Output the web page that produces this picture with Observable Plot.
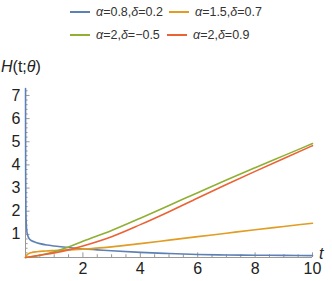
<!DOCTYPE html>
<html>
<head>
<meta charset="utf-8">
<script src="https://cdn.jsdelivr.net/npm/d3@7"></script>
<script src="https://cdn.jsdelivr.net/npm/@observablehq/plot@0.6"></script>
<style>
  html, body { margin: 0; padding: 0; background: #fff; }
  #wrap { position: relative; width: 332px; height: 281px; font-family: "Liberation Sans", Arial, sans-serif; }
  #legend { position: absolute; left: 0; top: 0; width: 332px; height: 50px; font-size: 12.5px; color: #333; }
  .item { position: absolute; display: flex; align-items: center; white-space: nowrap; }
  .sw { display: inline-block; width: 20px; height: 2px; margin-right: 6px; }
  #chart { position: absolute; left: 0; top: 50px; }
  .lab { position: absolute; font-size: 16px; color: #222; white-space: nowrap; }
</style>
</head>
<body>
<div id="wrap">
  <div id="legend"></div>
  <div id="chart"></div>
  <div class="lab" style="left:1px; top:58px;"><i>H</i>(t;<i>θ</i>)</div>
  <div class="lab" style="left:319px; top:245px;"><i>t</i></div>
</div>
<script>
// ---- data ----
const seriesNames = ["α=0.8,δ=0.2", "α=1.5,δ=0.7", "α=2,δ=−0.5", "α=2,δ=0.9"];
const seriesLegendHtml = ["<i>α</i>=0.8,<i>δ</i>=0.2", "<i>α</i>=1.5,<i>δ</i>=0.7", "<i>α</i>=2,<i>δ</i>=−0.5", "<i>α</i>=2,<i>δ</i>=0.9"];
const seriesColors = ["#5E81B5", "#E19C24", "#8FB032", "#EB6235"];

const blueT = [0.0015, 0.003, 0.006, 0.012, 0.025, 0.05, 0.1, 0.17, 0.3, 0.5, 0.75, 1, 1.5, 2, 2.5, 3, 4, 5, 6, 7, 8, 9, 10];
const blueH = [7.3, 5.0, 3.5, 2.3, 1.5, 1.1, 0.88, 0.76, 0.68, 0.6, 0.54, 0.5, 0.43, 0.37, 0.33, 0.29, 0.22, 0.17, 0.13, 0.11, 0.1, 0.09, 0.08];

const orangeT = [0, 0.02, 0.05, 0.1, 0.2, 0.4, 0.7, 1, 1.5, 2, 3, 4, 5, 6, 7, 8, 9, 10];
const orangeH = [0, 0.06, 0.11, 0.16, 0.21, 0.25, 0.28, 0.3, 0.33, 0.36, 0.46, 0.6, 0.75, 0.9, 1.05, 1.2, 1.34, 1.48];

const greenT = [0, 0.25, 0.5, 1, 1.5, 2, 3, 4, 5, 6, 7, 8, 9, 10];
const greenH = [0, 0.03, 0.1, 0.25, 0.45, 0.7, 1.17, 1.7, 2.25, 2.8, 3.35, 3.88, 4.4, 4.92];

const redT = [0, 0.25, 0.5, 1, 1.5, 2, 3, 4, 5, 6, 7, 8, 9, 10];
const redH = [0, 0.05, 0.1, 0.2, 0.33, 0.5, 0.9, 1.42, 1.98, 2.57, 3.15, 3.72, 4.28, 4.83];

const xTickLabels = [2, 4, 6, 8, 10];
const yTickLabels = [1, 2, 3, 4, 5, 6, 7];
const xMinorTicks = d3.range(0.5, 10.01, 0.5);
const yMinorTicks = d3.range(0.2, 7.21, 0.2);

// ---- build table ----
const allT = [blueT, orangeT, greenT, redT];
const allH = [blueH, orangeH, greenH, redH];
const rows = allT.flatMap((ts, i) => ts.map((t, j) => ({t, h: allH[i][j], s: seriesNames[i]})));

// ---- legend ----
const legendPos = [[70, 13], [169, 13], [70, 36], [167, 36]];
const legend = document.getElementById("legend");
seriesNames.forEach((n, i) => {
  const d = document.createElement("div");
  d.className = "item";
  d.style.left = legendPos[i][0] + "px";
  d.style.top = (legendPos[i][1] - 8) + "px";
  d.innerHTML = `<span class="sw" style="background:${seriesColors[i]}"></span><span>${seriesLegendHtml[i]}</span>`;
  legend.appendChild(d);
});

const axisColor = "#999";
const chart = Plot.plot({
  width: 332,
  height: 231,
  marginLeft: 25,
  marginRight: 20,
  marginTop: 38,
  marginBottom: 24,
  x: {domain: [0, 10]},
  y: {domain: [0, 7.3]},
  color: {domain: seriesNames, range: seriesColors},
  style: {fontFamily: "Liberation Sans, Arial, sans-serif", color: "#222"},
  marks: [
    Plot.axisX(xTickLabels, {tickSize: 0, tickPadding: 5, fontSize: 16, label: null}),
    Plot.axisY(yTickLabels, {tickSize: 0, tickPadding: 5, fontSize: 16, label: null}),
    Plot.ruleX(xMinorTicks, {x: d => d, y1: 0, y2: d => (d % 2 === 0 ? 0.2 : 0.12), stroke: axisColor}),
    Plot.ruleY(yMinorTicks, {y: d => d, x1: 0, x2: d => (Math.abs(d - Math.round(d)) < 1e-6 ? 0.16 : 0.09), stroke: axisColor}),
    Plot.ruleY([0], {stroke: axisColor}),
    Plot.ruleX([0], {stroke: axisColor}),
    Plot.line(rows, {x: "t", y: "h", z: "s", stroke: "s", strokeWidth: 1.6, curve: "monotone-x"})
  ]
});
document.getElementById("chart").appendChild(chart);
</script>
</body>
</html>
